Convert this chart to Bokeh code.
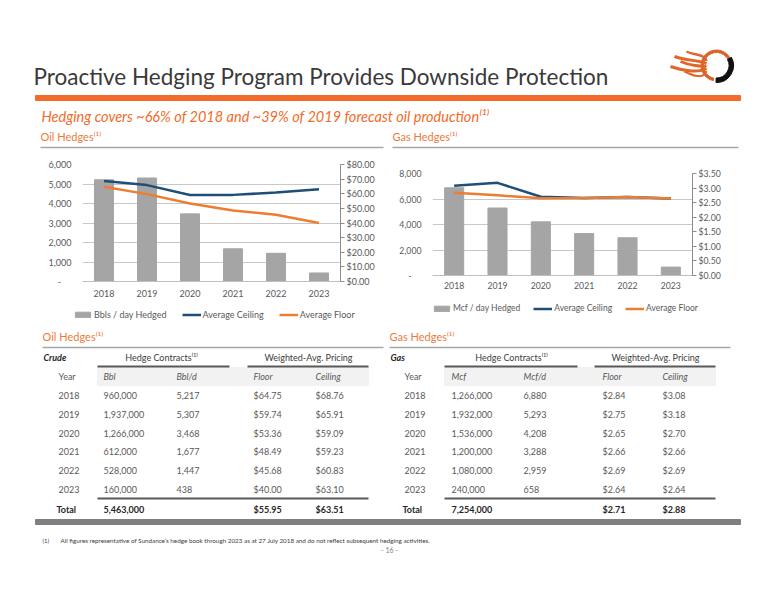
from bokeh.plotting import figure
from bokeh.models import (Range1d, FactorRange, LinearAxis, SingleIntervalTicker,
                          NumeralTickFormatter, Legend, LegendItem, ColumnDataSource)
from bokeh.layouts import column, row
from bokeh.embed import file_html
from bokeh.resources import INLINE
from bokeh.core.properties import value

FONT = "Lato"
ORANGE = "#F26B2A"
TXT = "#404040"
GREY_BAR = "#A5A5A5"
BLUE = "#1F4E79"
LORANGE = "#ED7D31"

# ---------------- data ----------------
years = ["2018", "2019", "2020", "2021", "2022", "2023"]
oil_bbl = ["960,000", "1,937,000", "1,266,000", "612,000", "528,000", "160,000"]
oil_bbl_d = [5217, 5307, 3468, 1677, 1447, 438]
oil_floor = [64.75, 59.74, 53.36, 48.49, 45.68, 40.00]
oil_ceiling = [68.76, 65.91, 59.09, 59.23, 60.83, 63.10]
oil_total = ["5,463,000", "$55.95", "$63.51"]

gas_mcf = ["1,266,000", "1,932,000", "1,536,000", "1,200,000", "1,080,000", "240,000"]
gas_mcf_d = [6880, 5293, 4208, 3288, 2959, 658]
gas_floor = [2.84, 2.75, 2.65, 2.66, 2.69, 2.64]
gas_ceiling = [3.08, 3.18, 2.70, 2.66, 2.69, 2.64]
gas_total = ["7,254,000", "$2.71", "$2.88"]

legend_labels_oil = ["Bbls / day Hedged", "Average Ceiling", "Average Floor"]
legend_labels_gas = ["Mcf / day Hedged", "Average Ceiling", "Average Floor"]

title = "Proactive Hedging Program Provides Downside Protection"
subtitle = "Hedging covers ~66% of 2018 and ~39% of 2019 forecast oil production\u207d\u00b9\u207e"
footnote = "All figures representative of Sundance\u2019s hedge book through 2023 as at 27 July 2018 and do not reflect subsequent hedging activities."


def blank(W, H):
    p = figure(width=W, height=H, x_range=Range1d(0, W), y_range=Range1d(0, H),
               output_backend="svg", toolbar_location=None, min_border=0,
               outline_line_color=None, background_fill_color="white",
               border_fill_color="white", frame_align=False)
    p.axis.visible = False
    p.grid.visible = False
    return p


def T(p, x, y, s, size="9px", color=TXT, align="left", style="normal", baseline="middle"):
    p.text(x=[x], y=[y], text=[s], text_font=value(FONT), text_font_size=size,
           text_color=color, text_align=align, text_font_style=style,
           text_baseline=baseline)


# ---------------- header (page y 0..150) ----------------
W1, H1 = 776, 150
hd = blank(W1, H1)
Y1 = lambda yr: H1 - yr

T(hd, 33, Y1(76), title, size="22.5px", color="#3A3A3A", baseline="alphabetic")
hd.quad(left=[35], right=[740], bottom=[Y1(100)], top=[Y1(95)], color=ORANGE)
T(hd, 41, Y1(116), subtitle, size="14.5px", color=ORANGE, style="italic")
for xs, xe, lab in [(40, 383, "Oil Hedges\u207d\u00b9\u207e"), (392, 738, "Gas Hedges\u207d\u00b9\u207e")]:
    T(hd, xs, Y1(136), lab, size="11px", color="#EE7A3A")
    hd.segment(x0=[xs], x1=[xe], y0=[Y1(147)], y1=[Y1(147)],
               line_color="#A6A6A6", line_width=1.5)

# logo (decorative)
cx, cy = 716, Y1(65)
hd.annular_wedge(x=cx, y=cy, inner_radius=13, outer_radius=15.5, start_angle=0.5,
                 end_angle=4.5, color="#D9612A")
hd.annular_wedge(x=cx, y=cy, inner_radius=12.5, outer_radius=17, start_angle=-1.6,
                 end_angle=0.5, color="#111111")
for dy, L, w in [(9, 30, 2.5), (4, 42, 3), (-1, 36, 3), (-6, 46, 3), (-11, 32, 2)]:
    hd.bezier(x0=cx - 10, y0=cy + dy * 0.5, x1=cx - L, y1=cy + dy + 5,
              cx0=cx - L * 0.4, cy0=cy + dy * 1.3, cx1=cx - L * 0.75, cy1=cy + dy + 1,
              line_color="#E0662A", line_width=w)


# ---------------- charts (page y 150..300) ----------------
def make_chart(W, H, bl, br, bt, bb, vals, floor, ceil, ymax, yint, pmax, pint,
               cat_standoff, fsize):
    p = figure(width=W, height=H, x_range=FactorRange(factors=years, range_padding=0),
               y_range=Range1d(0, ymax), output_backend="svg", toolbar_location=None,
               min_border_left=bl, min_border_right=br, min_border_top=bt,
               min_border_bottom=bb, outline_line_color=None, frame_align=False,
               background_fill_color="white", border_fill_color="white")
    p.extra_y_ranges = {"price": Range1d(0, pmax)}
    src = ColumnDataSource(dict(x=years, v=vals, f=floor, c=ceil))
    p.vbar(x="x", top="v", width=0.44, color=GREY_BAR, source=src)
    p.line(x="x", y="c", y_range_name="price", line_color=BLUE, line_width=2.5, source=src)
    p.line(x="x", y="f", y_range_name="price", line_color=LORANGE, line_width=2.5, source=src)

    ya = p.yaxis[0]
    ya.ticker = SingleIntervalTicker(interval=yint, num_minor_ticks=0)
    ya.formatter = NumeralTickFormatter(format="0,0")
    ya.major_label_overrides = {0: "-\u2007\u2007"}
    ya.axis_line_color = None
    ya.major_tick_line_color = None
    ya.minor_tick_line_color = None
    ya.major_tick_out = 0
    ya.major_label_standoff = 11

    ra = LinearAxis(y_range_name="price",
                    ticker=SingleIntervalTicker(interval=pint, num_minor_ticks=0),
                    formatter=NumeralTickFormatter(format="$0.00"))
    ra.axis_line_color = "#8C8C8C"
    ra.major_tick_line_color = "#8C8C8C"
    ra.major_tick_out = 4
    ra.major_tick_in = 0
    ra.minor_tick_line_color = None
    ra.major_label_standoff = 2
    p.add_layout(ra, "right")

    xa = p.xaxis[0]
    xa.axis_line_color = "#BFBFBF"
    xa.major_tick_line_color = None
    xa.major_tick_out = 0
    xa.major_label_standoff = cat_standoff

    for ax in [ya, ra, xa]:
        ax.major_label_text_font = FONT
        ax.major_label_text_font_size = fsize
        ax.major_label_text_color = "#595959"

    p.xgrid.visible = False
    p.ygrid.grid_line_color = "#C8C8C8"
    p.ygrid.grid_line_width = 1
    return p


oil = make_chart(385, 150, 82, 45, 14, 19, oil_bbl_d, oil_floor, oil_ceiling,
                 6000, 1000, 80, 10, 8, "9px")
gas = make_chart(391, 150, 47, 84, 23, 25, gas_mcf_d, gas_floor, gas_ceiling,
                 8000, 2000, 3.5, 0.5, 6, "8.7px")

# ---------------- legends + tables (page y 300..600) ----------------
W3, H3 = 776, 300
TOP3 = 300
tb = blank(W3, H3)
Y3 = lambda yr: H3 - (yr - TOP3)

# legend key renderers (placed outside the visible frame; only their style is used)
k_bar = tb.vbar(x=[-100], top=[-100], bottom=[-120], width=1, color=GREY_BAR)
k_ceil = tb.line(x=[-100, -90], y=[-100, -100], line_color=BLUE, line_width=2.5)
k_floor = tb.line(x=[-100, -90], y=[-100, -100], line_color=LORANGE, line_width=2.5)


def add_legend(labels, x0, yc, fsize, spacing):
    leg = Legend(items=[LegendItem(label=labels[0], renderers=[k_bar]),
                        LegendItem(label=labels[1], renderers=[k_ceil]),
                        LegendItem(label=labels[2], renderers=[k_floor])],
                 location=(x0, Y3(yc) - 5.5), orientation="horizontal",
                 border_line_color=None, background_fill_alpha=0, padding=0, margin=0,
                 spacing=spacing, label_standoff=2, glyph_width=19, glyph_height=7,
                 label_height=11, label_text_font=FONT, label_text_font_size=fsize,
                 label_text_color="#595959")
    tb.add_layout(leg)


add_legend(legend_labels_oil, 73, 314, "9px", 15)
add_legend(legend_labels_gas, 432, 308, "8.5px", 13)

row_y = [Y3(395 + i * 18.8) for i in range(len(years))]


def table(ox_title, lab_title, lab_corner, hc_center, wp_center, hc_span, wp_span,
          cols, sub_labels, col_a, col_b, floor, ceil, totals, title_end):
    T(tb, ox_title, Y3(336), lab_title, size="11px", color="#EE7A3A")
    tb.segment(x0=[ox_title], x1=[title_end], y0=[Y3(347)], y1=[Y3(347)],
               line_color="#A6A6A6", line_width=1.5)
    T(tb, ox_title + 1, Y3(357), lab_corner, size="9px", color="#262626", style="bold italic")
    T(tb, hc_center, Y3(357), "Hedge Contracts\u207d\u00b9\u207e", size="9px", align="center")
    T(tb, wp_center, Y3(357), "Weighted-Avg. Pricing", size="9px", align="center")
    tb.quad(left=[hc_span[0]], right=[wp_span[1]], top=[Y3(367)], bottom=[Y3(385)],
            color="#F2F2F2")
    for a, b in [hc_span, wp_span]:
        tb.segment(x0=[a], x1=[b], y0=[Y3(366)], y1=[Y3(366)],
                   line_color="#595959", line_width=2)
    tb.segment(x0=[hc_span[0]], x1=[wp_span[1]], y0=[Y3(498)], y1=[Y3(498)],
               line_color="#595959", line_width=2)
    for i, s in enumerate(sub_labels):
        T(tb, cols[i], Y3(376), s, size="9px", color="#595959",
          style="normal" if i == 0 else "italic")
    columns = [years, col_a, [f"{v:,}" for v in col_b],
               [f"${v:.2f}" for v in floor], [f"${v:.2f}" for v in ceil]]
    for ci, vals in enumerate(columns):
        tb.text(x=[cols[ci]] * len(vals), y=row_y, text=vals,
                text_font=value(FONT), text_font_size="9px", text_color="#595959",
                text_baseline="middle")
    T(tb, cols[0] - 2, Y3(509), "Total", size="9px", color="#262626", style="bold")
    T(tb, cols[1], Y3(509), totals[0], size="9px", color="#262626", style="bold")
    T(tb, cols[3], Y3(509), totals[1], size="9px", color="#262626", style="bold")
    T(tb, cols[4], Y3(509), totals[2], size="9px", color="#262626", style="bold")


table(42, "Oil Hedges\u207d\u00b9\u207e", "Crude", 161, 308, (97, 229), (247, 368),
      [58, 103, 176, 253, 315], ["Year", "Bbl", "Bbl/d", "Floor", "Ceiling"],
      oil_bbl, oil_bbl_d, oil_floor, oil_ceiling, oil_total, 383)
table(389, "Gas Hedges\u207d\u00b9\u207e", "Gas", 511, 655, (444, 577), (594, 715),
      [404, 451, 523, 602, 662], ["Year", "Mcf", "Mcf/d", "Floor", "Ceiling"],
      gas_mcf, gas_mcf_d, gas_floor, gas_ceiling, gas_total, 730)

tb.quad(left=[35], right=[740], top=[Y3(519)], bottom=[Y3(524)], color="#808080")
T(tb, 42, Y3(540), "(1)", size="6px", color="#404040")
T(tb, 60, Y3(540), footnote, size="6.3px", color="#404040")
T(tb, 389, Y3(549), "- 16 -", size="7px", color="#7F7F7F", align="center")

layout = column(hd, row(oil, gas), tb)

with open("out.html", "w") as f:
    f.write(file_html(layout, INLINE))
